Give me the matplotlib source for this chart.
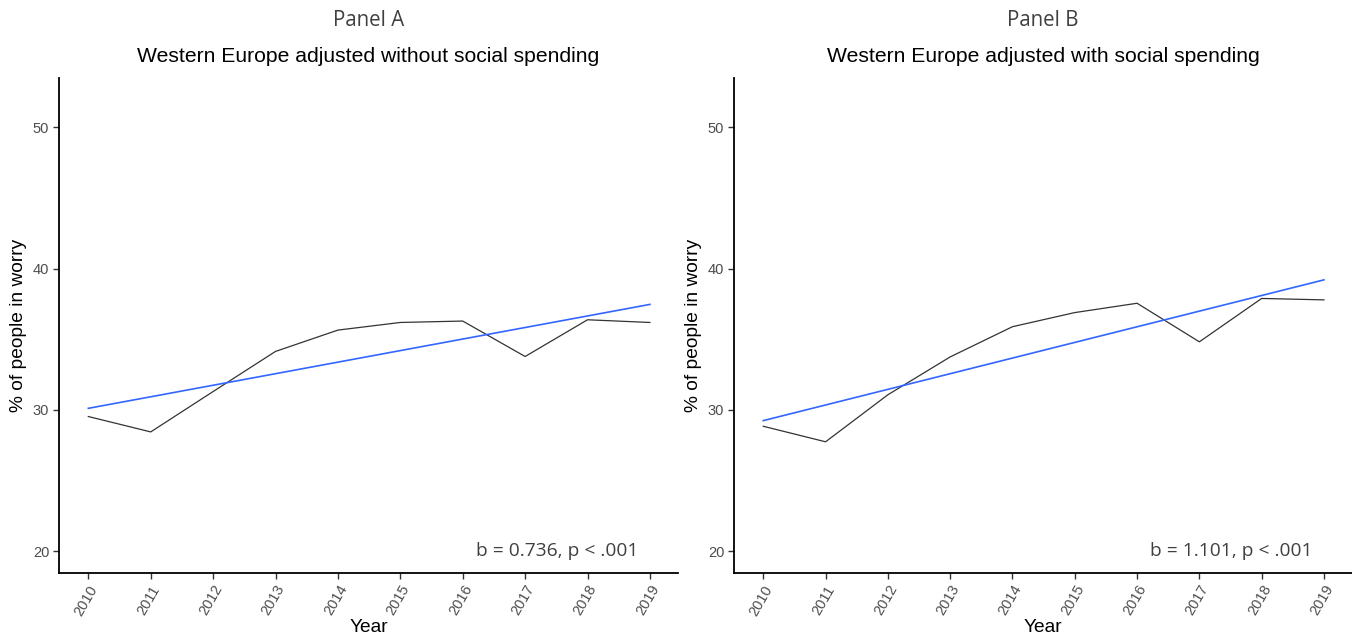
import matplotlib.pyplot as plt
import numpy as np

# Share of people in worry, Western Europe, by year
years = np.arange(2010, 2020)
worry_without = [29.53, 28.44, 31.3, 34.14, 35.65, 36.19, 36.29, 33.78, 36.38, 36.19]
worry_with = [28.84, 27.74, 31.07, 33.75, 35.89, 36.89, 37.55, 34.82, 37.89, 37.79]

panel_names = ['Panel A', 'Panel B']
titles = ['Western Europe adjusted without social spending',
          'Western Europe adjusted with social spending']
stats = ['b = 0.736, p < .001', 'b = 1.101, p < .001']
series = [worry_without, worry_with]

W, H = 1352, 642
fig = plt.figure(figsize=(W / 100, H / 100), dpi=100)

# axes boxes in pixels: left, right, top, bottom
boxes = [(59, 678, 78, 573), (734, 1352, 78, 573)]

for box, name, title, stat, vals in zip(boxes, panel_names, titles, stats, series):
    l, r, t, b = box
    ax = fig.add_axes([l / W, 1 - b / H, (r - l) / W, (b - t) / H])

    ax.plot(years, vals, color='#333333', linewidth=0.9)
    slope, icpt = np.polyfit(years, vals, 1)
    ax.plot(years, slope * years + icpt, color='#3366FF', linewidth=1.2)

    ax.set_xlim(2009.53, 2019.45)
    ax.set_ylim(18.45, 53.5)
    ax.set_xticks(years)
    ax.set_xticklabels([str(y) for y in years], rotation=60, ha='right',
                       rotation_mode='anchor', fontsize=10.5, color='#4D4D4D',
                       family='Liberation Sans')
    ax.set_yticks([20, 30, 40, 50])
    ax.set_yticklabels(['20', '30', '40', '50'], fontsize=10.5, color='#4D4D4D',
                       family='Liberation Sans')
    ax.tick_params(length=4, width=1, color='#333333', pad=3)

    for side in ['top', 'right']:
        ax.spines[side].set_visible(False)
    for side in ['left', 'bottom']:
        ax.spines[side].set_linewidth(1.3)
        ax.spines[side].set_color('black')

    ax.set_xlabel('Year', fontsize=13.8, family='Liberation Sans', labelpad=1)
    ax.set_ylabel('% of people in worry', fontsize=13.8, family='Liberation Sans',
                  labelpad=4)

    ax.text(2018.82, 20, stat, ha='right', va='center', fontsize=13.8,
            color='#404040', family='Open Sans')

    cx = (l + r) / 2 / W
    fig.text(cx, 1 - 21 / H, name, ha='center', va='center', fontsize=14.8,
             color='#404040', family='Open Sans')
    fig.text(cx, 1 - 57 / H, title, ha='center', va='center', fontsize=15.2,
             color='black', family='Liberation Sans')

fig.savefig('out.png', dpi=100)
